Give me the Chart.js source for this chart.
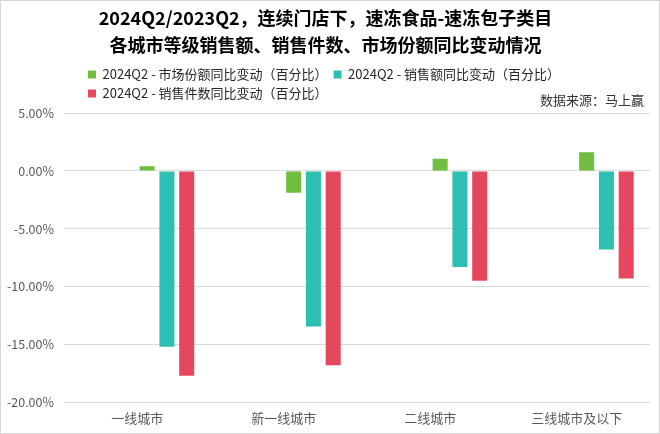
<!DOCTYPE html>
<html>
<head>
<meta charset="utf-8">
<script src="https://cdn.jsdelivr.net/npm/chart.js@4/dist/chart.umd.min.js"></script>
<style>
  html, body { margin: 0; padding: 0; background: #fff; }
  #wrap { width: 658px; height: 432px; border: 1px solid #d6d6d6; position: relative; }
</style>
</head>
<body>
<div id="wrap"><canvas id="chart-area"></canvas></div>
<script>
  // data (percent, YoY change)
  var cities = ['一线城市', '新一线城市', '二线城市', '三线城市及以下'];
  var shareChange = [0.4, -1.9, 1.05, 1.6];
  var salesChange = [-15.2, -13.45, -8.3, -6.8];
  var unitsChange = [-17.7, -16.8, -9.5, -9.3];
  var seriesNames = [
    '2024Q2 - 市场份额同比变动（百分比）',
    '2024Q2 - 销售额同比变动（百分比）',
    '2024Q2 - 销售件数同比变动（百分比）'
  ];
  var blank = [null, null, null, null];

  var colors = { green: '#70bd40', teal: '#2dbfb1', red: '#e5485e' };
  var font = "'Noto Sans CJK SC', 'Noto Sans', sans-serif";

  // the source chart keeps three empty series in front, so bars sit right of the label
  function empty() {
    return { label: '', data: blank, backgroundColor: 'rgba(0,0,0,0)' };
  }

  var sourceNote = {
    id: 'sourceNote',
    afterDraw: function (chart) {
      var ctx = chart.ctx;
      ctx.save();
      ctx.font = '13px ' + font;
      ctx.fillStyle = '#333';
      ctx.textAlign = 'right';
      ctx.textBaseline = 'middle';
      ctx.fillText('数据来源：马上赢', 643, 99);
      ctx.restore();
    }
  };

  // legend rows start left-aligned under the title, not at the canvas edge
  var shiftLegend = {
    id: 'shiftLegend',
    afterLayout: function (chart) {
      var lg = chart.legend;
      lg.left += 81; lg.right += 81;
      lg.top -= 3; lg.bottom -= 3;
    }
  };

  var ctx = document.getElementById('chart-area').getContext('2d');
  window.myBar = new Chart(ctx, {
    type: 'bar',
    data: {
      labels: cities,
      datasets: [
        empty(), empty(), empty(),
        { label: seriesNames[0], data: shareChange, backgroundColor: colors.green },
        { label: seriesNames[1], data: salesChange, backgroundColor: colors.teal },
        { label: seriesNames[2], data: unitsChange, backgroundColor: colors.red }
      ]
    },
    plugins: [sourceNote, shiftLegend],
    options: {
      responsive: true,
      maintainAspectRatio: false,
      animation: false,
      layout: { padding: { left: 0, right: 9, top: 0, bottom: 2 } },
      datasets: {
        bar: { categoryPercentage: 0.81, barPercentage: 0.76 }
      },
      plugins: {
        title: {
          display: true,
          text: ['2024Q2/2023Q2，连续门店下，速冻食品-速冻包子类目', '各城市等级销售额、销售件数、市场份额同比变动情况'],
          color: '#000',
          font: { family: font, size: 18, weight: 'bold', lineHeight: 1.5 },
          padding: { top: 4, bottom: 6 }
        },
        legend: {
          position: 'top',
          align: 'start',
          labels: {
            boxWidth: 8,
            boxHeight: 8,
            padding: 6,
            color: '#262626',
            font: { family: font, size: 13 },
            filter: function (item) { return item.text !== ''; }
          }
        },
        tooltip: { enabled: false }
      },
      scales: {
        x: {
          afterFit: function (scale) { scale.height -= 3; },
          grid: { display: false, drawTicks: false },
          border: { display: false },
          ticks: { color: '#595959', font: { family: font, size: 13 }, padding: 8 }
        },
        y: {
          min: -20,
          max: 5,
          afterFit: function (scale) { scale.width = 63; },
          grid: { color: '#d9d9d9', drawTicks: false },
          border: { display: false },
          ticks: {
            stepSize: 5,
            padding: 10,
            color: '#595959',
            font: { family: font, size: 12.5 },
            callback: function (v) { return v.toFixed(2) + '%'; }
          }
        }
      }
    }
  });
</script>
</body>
</html>
